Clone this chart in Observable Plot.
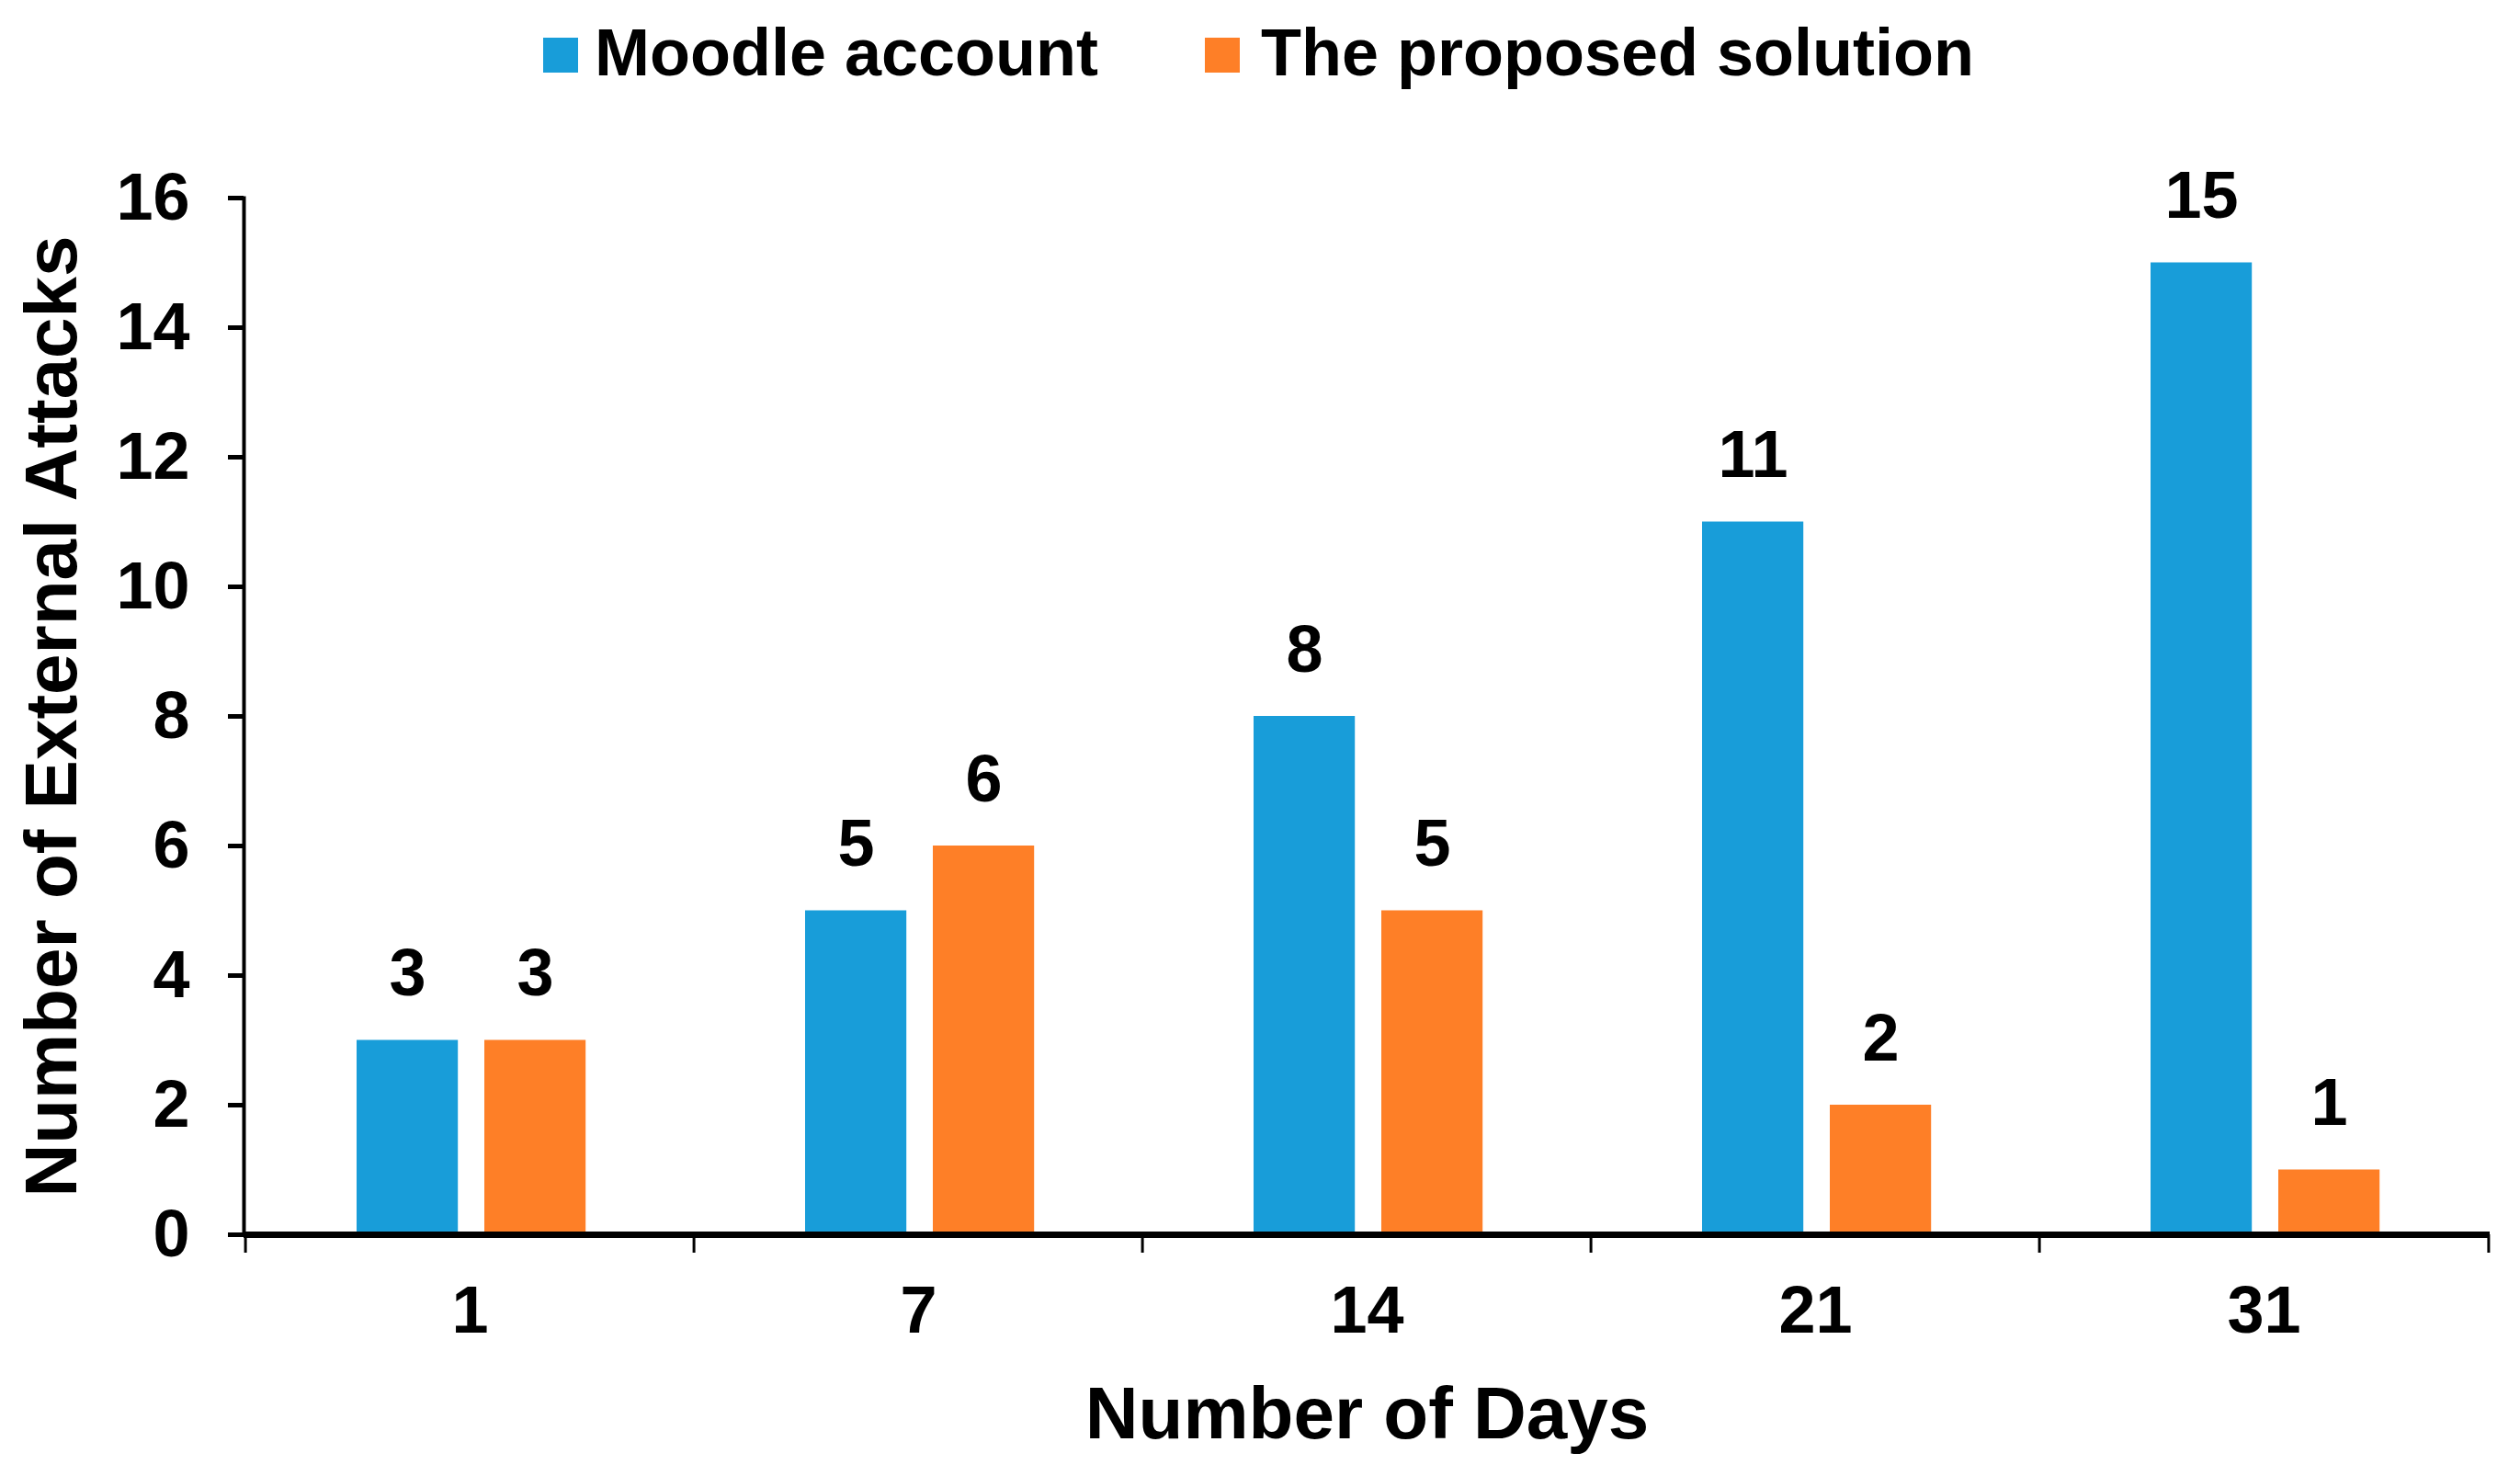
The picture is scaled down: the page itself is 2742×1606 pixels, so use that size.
<!DOCTYPE html>
<html><head><meta charset="utf-8">
<script src="https://cdn.jsdelivr.net/npm/d3@7"></script>
<script src="https://cdn.jsdelivr.net/npm/@observablehq/plot@0.6"></script>
<style>
body{margin:0;background:#fff;font-family:"Liberation Sans",Arial,sans-serif;font-weight:bold;}
#legend{position:relative;height:110px;width:2742px;}
#legend .sw{position:absolute;top:41px;width:38px;height:38px;}
#legend .lb{position:absolute;top:21px;font-size:72px;line-height:72px;color:#000;white-space:nowrap;}
</style></head><body>
<div id="legend"></div><div id="chart"></div>
<script>
const days = ["1", "7", "14", "21", "31"];
const moodle = [3, 5, 8, 11, 15];
const proposed = [3, 6, 5, 2, 1];
const seriesNames = ["Moodle account", "The proposed solution"];
const colors = ["#189DD9", "#FE7F27"];
const yTicks = [0, 2, 4, 6, 8, 10, 12, 14, 16];

const rows = days.map((d, i) => ({day: d, moodle: moodle[i], proposed: proposed[i]}));

// legend
const leg = document.getElementById("legend");
const legPos = [[591, 647], [1311, 1372]];
seriesNames.forEach((n, i) => {
  const s = document.createElement("div"); s.className = "sw";
  s.style.left = legPos[i][0] + "px"; s.style.background = colors[i]; leg.appendChild(s);
  const t = document.createElement("div"); t.className = "lb";
  t.style.left = legPos[i][1] + "px"; t.textContent = n; leg.appendChild(t);
});

const W = 2742, H = 1496, ML = 265, MR = 33, MT = 105, MB = 263;
const bw = (W - ML - MR) / days.length;
const barW = 111, gap = 28, lead = 121;
const blueIn = {insetLeft: lead, insetRight: bw - lead - barW};
const orangeIn = {insetLeft: lead + barW + gap, insetRight: bw - lead - 2 * barW - gap};
const blueDx = lead + barW / 2 - bw / 2;
const orangeDx = lead + barW * 1.5 + gap - bw / 2;
const font = "'Liberation Sans', Arial, sans-serif";

const chart = Plot.plot({
  width: W, height: H,
  marginLeft: ML, marginRight: MR, marginTop: MT, marginBottom: MB,
  style: {fontFamily: font, fontWeight: "bold", fontSize: "72px", color: "#000", background: "#fff"},
  x: {type: "band", domain: days, padding: 0, label: null},
  y: {domain: [0, 16], label: null},
  marks: [
    Plot.barY(rows, {x: "day", y: "moodle", fill: colors[0], ...blueIn}),
    Plot.barY(rows, {x: "day", y: "proposed", fill: colors[1], ...orangeIn}),
    Plot.text(rows, {x: "day", y: "moodle", text: d => String(d.moodle), dx: blueDx, dy: -49, lineAnchor: "bottom", fontSize: 72, fontWeight: "bold", fill: "#000"}),
    Plot.text(rows, {x: "day", y: "proposed", text: d => String(d.proposed), dx: orangeDx, dy: -49, lineAnchor: "bottom", fontSize: 72, fontWeight: "bold", fill: "#000"}),
    Plot.frame({anchor: "left", strokeWidth: 4, stroke: "#000"}),
    Plot.ruleY([0], {strokeWidth: 7, stroke: "#000"}),
    Plot.axisY({ticks: yTicks, tickSize: 17, tickPadding: 42, strokeWidth: 5, fontSize: 72, label: null, tickFormat: d => String(d)}),
    Plot.axisX({tickSize: 0, tickPadding: 55, fontSize: 72, label: null}),
    Plot.axisX({tickSize: 20, tickFormat: () => "", dx: -bw / 2, strokeWidth: 3, label: null}),
    Plot.axisX({ticks: [days[days.length - 1]], tickSize: 20, tickFormat: () => "", dx: bw / 2, strokeWidth: 3, label: null}),
    Plot.text(["Number of External Attacks"], {frameAnchor: "left", textAnchor: "middle", rotate: -90, dx: -208, lineAnchor: "middle", fontSize: 80, fontWeight: "bold", fill: "#000"}),
    Plot.text(["Number of Days"], {frameAnchor: "bottom", textAnchor: "middle", dy: 196, lineAnchor: "middle", fontSize: 80, fontWeight: "bold", fill: "#000"})
  ]
});
document.getElementById("chart").appendChild(chart);
</script>
</body></html>
